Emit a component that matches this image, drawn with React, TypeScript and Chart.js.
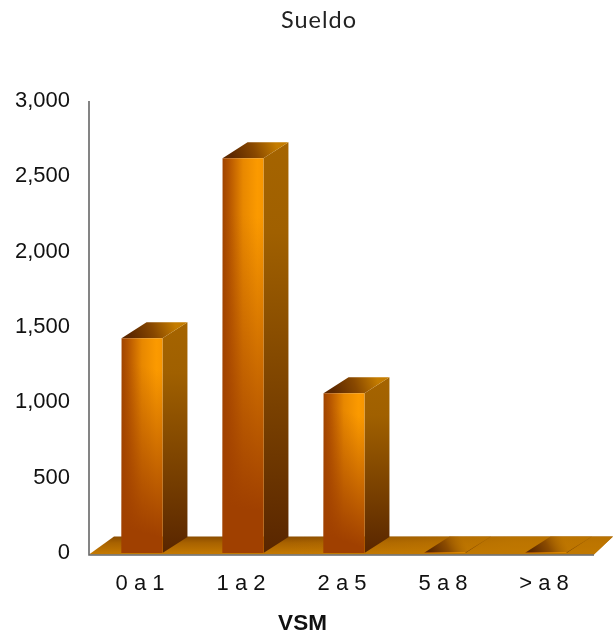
import React, { useEffect, useRef } from "react";
import { Chart, registerables } from "chart.js";

Chart.register(...registerables);

const categories = ["0 a 1", "1 a 2", "2 a 5", "5 a 8", "> a 8"];
const sueldo = [1425, 2620, 1060, 4, 4];
const yTicks = [0, 500, 1000, 1500, 2000, 2500, 3000];
const chartTitle = "Sueldo";
const xTitle = "VSM";

const DEPTH_X = 25;
const DEPTH_Y = 16;
const BAR_SHARE = 0.405;

function lin(ctx: CanvasRenderingContext2D, x0: number, y0: number, x1: number, y1: number, stops: [number, string][]) {
  const g = ctx.createLinearGradient(x0, y0, x1, y1);
  stops.forEach(([o, c]) => g.addColorStop(o, c));
  return g;
}

function poly(ctx: CanvasRenderingContext2D, pts: number[][], fill: any) {
  ctx.beginPath();
  pts.forEach(([x, y], i) => (i ? ctx.lineTo(x, y) : ctx.moveTo(x, y)));
  ctx.closePath();
  ctx.fillStyle = fill;
  ctx.fill();
}

const floor3d = {
  id: "floor3d",
  beforeDatasetsDraw(chart: any) {
    const { ctx, chartArea: a } = chart;
    const base = chart.scales.y.getPixelForValue(0);
    const left = a.left - 2.5;
    const right = a.right - 2.5;
    const bottom = base + 1.5;
    const top = bottom - DEPTH_Y - 2;
    const floorPts = [[left, bottom], [left + DEPTH_X, top], [right + 19, top], [right, bottom]];
    ctx.save();
    poly(ctx, floorPts, lin(ctx, 0, top, 0, bottom, [[0, "#8a4c00"], [0.35, "#a86200"], [1, "#c67a00"]]));
    poly(ctx, floorPts, lin(ctx, left + 200, 0, right - 80, 0, [[0, "rgba(192,120,0,0)"], [1, "rgba(192,120,0,0.85)"]]));
    ctx.strokeStyle = "#666";
    ctx.lineWidth = 1.6;
    ctx.beginPath();
    ctx.moveTo(left, a.top);
    ctx.lineTo(left, bottom + 0.5);
    ctx.lineTo(right, bottom + 0.5);
    ctx.stroke();
    const meta = chart.getDatasetMeta(0);
    meta.data.forEach((bar: any) => {
      const l = bar.x - bar.width / 2;
      const r = bar.x + bar.width / 2;
      const t = bar.y;
      const b = bar.base;
      poly(
        ctx,
        [[r, t], [r + DEPTH_X, t - DEPTH_Y], [r + DEPTH_X, b - DEPTH_Y], [r, b]],
        lin(ctx, 0, t - DEPTH_Y, 0, b, [[0, "#a56400"], [0.22, "#a06000"], [1, "#592600"]])
      );
      const tall = b - t > 30;
      poly(
        ctx,
        [[l, t], [l + DEPTH_X, t - DEPTH_Y], [r + DEPTH_X, t - DEPTH_Y], [r, t]],
        tall
          ? lin(ctx, l + 10, t, r + 12, t - DEPTH_Y, [[0, "#5c2800"], [0.5, "#884800"], [1, "#c47c00"]])
          : lin(ctx, l + 6, t, r - 4, t - DEPTH_Y, [[0, "#5c2800"], [0.5, "#8c4c00"], [1, "rgba(190,118,0,0.4)"]])
      );
    });
    ctx.restore();
  },
};

const shadeBars = {
  id: "shadeBars",
  afterDatasetsDraw(chart: any) {
    const { ctx } = chart;
    ctx.save();
    chart.getDatasetMeta(0).data.forEach((bar: any) => {
      const h = bar.base - bar.y;
      if (h < 30) return;
      const l = bar.x - bar.width / 2;
      const r = bar.x + bar.width / 2;
      ctx.fillStyle = lin(ctx, r, bar.y + h * 0.15, l, bar.base - h * 0.12, [
        [0, "rgba(160,64,0,0)"],
        [1, "rgba(160,64,0,1)"],
      ]);
      ctx.fillRect(l, bar.y, bar.width, h);
    });
    ctx.restore();
  },
};

const titles = {
  id: "titles",
  afterDraw(chart: any) {
    const { ctx } = chart;
    ctx.save();
    ctx.textAlign = "center";
    ctx.textBaseline = "middle";
    ctx.fillStyle = "#222";
    ctx.font = "23.5px Lato";
    ctx.letterSpacing = "1px";
    ctx.fillText(chartTitle, 319, 20);
    ctx.fillStyle = "#111";
    ctx.font = "bold 22.5px 'Liberation Sans'";
    ctx.letterSpacing = "0px";
    ctx.fillText(xTitle, 302.5, 624);
    ctx.restore();
  },
};

export default function App() {
  const ref = useRef<HTMLCanvasElement>(null);
  useEffect(() => {
    const chart = new Chart(ref.current as HTMLCanvasElement, {
      type: "bar",
      data: {
        labels: categories,
        datasets: [
          {
            label: chartTitle,
            data: sueldo,
            barPercentage: BAR_SHARE,
            categoryPercentage: 1,
            borderWidth: 0,
            backgroundColor: (c: any) => {
              const { x } = c.chart.scales;
              const w = (x.width / categories.length) * BAR_SHARE;
              const mid = x.getPixelForValue(c.dataIndex);
              if (!Number.isFinite(mid) || !Number.isFinite(w)) return "#a04000";
              return lin(c.chart.ctx, mid - w / 2, 0, mid + w / 2, 0, [
                [0, "#a04400"],
                [0.15, "#b45400"],
                [0.5, "#e88800"],
                [0.85, "#fb9a00"],
                [1, "#f89600"],
              ]);
            },
          },
        ],
      },
      options: {
        animation: false,
        responsive: false,
        maintainAspectRatio: false,
        layout: { padding: { left: 0, right: 16.5, top: 101, bottom: 0 } },
        plugins: {
          legend: { display: false },
          tooltip: { enabled: false },
          title: { display: false },
        },
        scales: {
          x: {
            afterFit: (s: any) => {
              s.height = 83;
            },
            grid: { display: false },
            border: { display: false },
            ticks: { color: "#111", font: { family: "Liberation Sans", size: 22 }, maxRotation: 0, labelOffset: -2, padding: 10 },
          },
          y: {
            min: 0,
            max: 3000,
            afterFit: (s: any) => {
              s.width = 91.5;
            },
            afterBuildTicks: (s: any) => {
              s.ticks = yTicks.map((value) => ({ value }));
            },
            grid: { display: false },
            border: { display: false },
            ticks: {
              color: "#111",
              font: { family: "Liberation Sans", size: 22 },
              padding: 13.5,
              callback: (v: any) => Number(v).toLocaleString("en-US"),
            },
          },
        },
      },
      plugins: [floor3d, shadeBars, titles],
    } as any);
    return () => chart.destroy();
  }, []);
  return (
    <div style={{ position: "absolute", left: 0, top: 0 }}>
      <canvas ref={ref} width={613} height={636} style={{ display: "block" }} />
    </div>
  );
}
